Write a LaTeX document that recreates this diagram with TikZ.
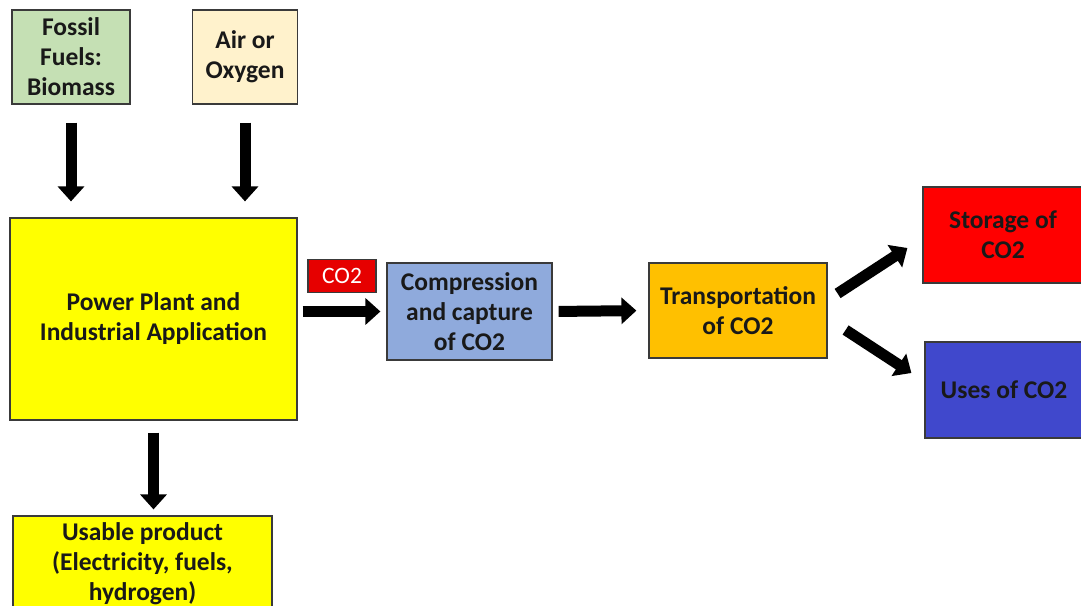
\documentclass[tikz,border=0pt]{standalone}
\usepackage{fontspec}
\setmainfont{Carlito}
\usetikzlibrary{arrows.meta}

\definecolor{fossilgreen}{HTML}{C5E0B4}
\definecolor{airpeach}{HTML}{FFF2CC}
\definecolor{plantyellow}{HTML}{FFFF00}
\definecolor{capblue}{HTML}{8FAADC}
\definecolor{transorange}{HTML}{FFC000}
\definecolor{storered}{HTML}{FF0000}
\definecolor{useblue}{HTML}{4048CC}
\definecolor{labelred}{HTML}{E60000}
\definecolor{boxline}{HTML}{3A3A3A}

\begin{document}
\begin{tikzpicture}[x=1pt, y=-1pt,
    box/.style={draw=boxline, line width=1.2pt, align=center, inner sep=0pt,
      font=\fontsize{25.5}{30}\selectfont\bfseries, text=black!90},
    fatarrow/.style={line width=11pt, -{Triangle[width=26pt,length=15pt]}}]
    \useasboundingbox (0,0) rectangle (1081,605);

    % inputs
    \node[box, fill=fossilgreen, minimum width=118pt, minimum height=94pt] (fossil) at (71,57) {Fossil\\Fuels:\\Biomass};
    \node[box, fill=airpeach, minimum width=105pt, minimum height=94pt] (air) at (245,57) {Air or\\Oxygen};

    % plant and product
    \node[box, fill=plantyellow, minimum width=287pt, minimum height=202pt] (plant) at (153.5,319) {Power Plant and\\Industrial Application};
    \node[box, fill=plantyellow, minimum width=259pt, minimum height=96pt] (product) at (142.5,564) {Usable product\\(Electricity, fuels,\\hydrogen)};

    % capture chain
    \node[box, fill=capblue, minimum width=165pt, minimum height=97pt] (capture) at (469.5,311.5) {Compression\\and capture\\of CO2};
    \node[box, fill=transorange, minimum width=178pt, minimum height=95pt] (transport) at (738,310.5) {Transportation\\of CO2};
    \node[box, fill=storered, minimum width=160pt, minimum height=96pt] (storage) at (1003,235) {Storage of\\CO2};
    \node[box, fill=useblue, minimum width=158pt, minimum height=96pt] (uses) at (1004,390) {Uses of CO2};

    \node[box, fill=labelred, text=white, minimum width=68pt, minimum height=33pt,
      font=\fontsize{23.5}{27}\selectfont] (colabel) at (342,276) {CO2};

    % arrows
    \draw[fatarrow, shorten <=18pt, shorten >=16pt] (fossil.south) -- (fossil.south |- plant.north);
    \draw[fatarrow, shorten <=18pt, shorten >=16pt] (air.south) -- (air.south |- plant.north);
    \draw[fatarrow, shorten <=12pt, shorten >=6pt] (plant.south) -- (plant.south |- product.north);
    \draw[fatarrow, shorten <=5pt, shorten >=6pt] (capture.west -| plant.east) -- (capture.west);
    \draw[fatarrow, shorten <=6pt, shorten >=12pt] (capture.east) -- (transport.west);
    \draw[fatarrow] ([shift={(10,-17)}]transport.east) -- ([shift={(-15,13)}]storage.west);
    \draw[fatarrow] ([shift={(18,19.5)}]transport.east) -- ([shift={(-13,-17)}]uses.west);
\end{tikzpicture}
\end{document}
